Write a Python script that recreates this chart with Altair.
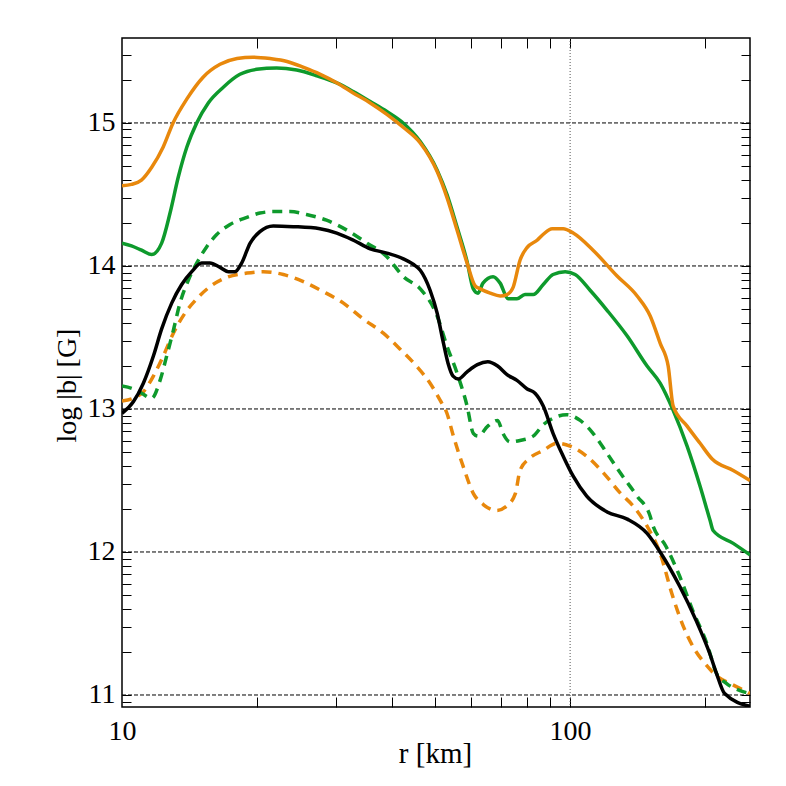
import math
import altair as alt
import pandas as pd

# ---- data (r in km, log10|b| in G) ----
r_orange_solid = [10, 10.5, 11.05, 11.65, 12.35, 13.0, 13.97, 15.17, 16.55, 18.06, 19.6, 21.4, 23.35,
                  25.35, 27.7, 30.2, 32.8, 35.8, 39.0, 42.4, 46.3, 50.5, 53.1, 55.95, 58.9, 61.4, 63.0,
                  66.3, 69.8, 72.3, 74.6, 77.3, 80.2, 84.4, 87.0, 91.2, 96.5, 101.6, 112.5, 127.3,
                  141.1, 150.9, 158.8, 165.5, 169.8, 182.4, 195, 207.5, 231.2, 252]
b_orange_solid = [14.56, 14.57, 14.60, 14.69, 14.83, 15.00, 15.17, 15.32, 15.41, 15.45, 15.46, 15.45,
                  15.43, 15.39, 15.34, 15.28, 15.21, 15.14, 15.06, 14.97, 14.86, 14.66, 14.48, 14.25,
                  14.02, 13.86, 13.84, 13.81, 13.79, 13.80, 13.85, 14.04, 14.13, 14.18, 14.22, 14.26,
                  14.26, 14.23, 14.11, 13.93, 13.79, 13.65, 13.46, 13.30, 13.02, 12.88, 12.76, 12.65,
                  12.57, 12.50]

r_green_solid = [10, 10.5, 11.06, 11.65, 12.26, 12.80, 13.35, 13.95, 14.68, 15.58, 16.83, 18.33, 19.98,
                 22.14, 24.53, 27.2, 30.15, 32.8, 35.8, 39.0, 42.4, 46.3, 50.5, 53.1, 55.95, 58.9,
                 60.8, 62.3, 63.9, 67.3, 69.8, 72.7, 76.1, 79.3, 82.7, 87.1, 91.6, 97.5, 102.6,
                 110.8, 120.9, 134.1, 148.5, 158.8, 169.8, 182.4, 195, 205.3, 208.5, 231.2, 252]
b_green_solid = [14.16, 14.14, 14.11, 14.08, 14.16, 14.37, 14.62, 14.83, 15.00, 15.14, 15.25, 15.34,
                 15.375, 15.385, 15.37, 15.33, 15.28, 15.22, 15.15, 15.08, 15.00, 14.87, 14.67, 14.50,
                 14.27, 14.03, 13.84, 13.81, 13.88, 13.925, 13.88, 13.77, 13.77, 13.80, 13.80, 13.87,
                 13.94, 13.96, 13.94, 13.83, 13.69, 13.51, 13.30, 13.18, 12.99, 12.74, 12.46, 12.22,
                 12.15, 12.06, 11.98]

r_black_solid = [10, 10.6, 11.16, 11.75, 12.26, 12.91, 13.59, 14.31, 15.06, 15.71, 16.55, 17.27, 17.87,
                 18.49, 19.32, 20.31, 21.75, 24.12, 27.65, 30.15, 32.85, 35.8, 39.0, 42.45, 44.74,
                 46.3, 48.7, 50.5, 52.0, 53.4, 54.8, 56.3, 58.9, 62.1, 65.5, 68.9, 72.3, 76.1, 80.2,
                 83.5, 87.1, 91.6, 96.5, 101.6, 108.9, 120.9, 134.1, 148.5, 158.8, 175.6, 191.1,
                 204.9, 212.2, 221.2, 252]
b_black_solid = [12.97, 13.05, 13.18, 13.37, 13.56, 13.74, 13.87, 13.96, 14.02, 14.02, 13.99, 13.96,
                 13.96, 14.02, 14.16, 14.24, 14.28, 14.275, 14.26, 14.23, 14.18, 14.12, 14.09, 14.05,
                 14.01, 13.97, 13.83, 13.67, 13.48, 13.32, 13.23, 13.21, 13.26, 13.31, 13.33, 13.30,
                 13.24, 13.20, 13.14, 13.11, 13.02, 12.83, 12.67, 12.53, 12.39, 12.28, 12.23, 12.13,
                 12.00, 11.76, 11.52, 11.29, 11.15, 11.01, 10.92]

r_green_dashed = [10, 10.6, 11.06, 11.65, 12.16, 12.58, 13.02, 13.47, 14.06, 14.68, 15.46, 16.27, 17.42,
                  19.0, 20.31, 21.75, 23.7, 25.8, 28.6, 31.77, 35.2, 39.0, 42.45, 46.3, 50.5, 53.1,
                  55.95, 58.9, 60.8, 62.3, 65.5, 68.9, 70.8, 73.4, 77.3, 82.7, 87.1, 91.6, 98.2,
                  105.3, 112.5, 120.9, 129.6, 141.1, 150.9, 152.5, 163.6, 175.6, 187.8, 201.9, 212.2,
                  223.5, 239.5, 252]
b_green_dashed = [13.16, 13.14, 13.11, 13.075, 13.20, 13.37, 13.55, 13.74, 13.90, 14.02, 14.135, 14.22,
                  14.29, 14.34, 14.37, 14.38, 14.38, 14.36, 14.32, 14.25, 14.16, 14.065, 13.925, 13.84,
                  13.65, 13.44, 13.25, 13.02, 12.83, 12.81, 12.88, 12.92, 12.83, 12.77, 12.78, 12.81,
                  12.89, 12.935, 12.96, 12.92, 12.83, 12.69, 12.55, 12.39, 12.25, 12.20, 12.04, 11.83,
                  11.59, 11.36, 11.15, 11.08, 11.03, 11.01]

r_orange_dashed = [10, 10.6, 11.16, 11.75, 12.36, 13.02, 13.82, 14.68, 15.71, 17.13, 19.0, 20.66, 22.91,
                   25.39, 28.15, 31.2, 34.5, 38.3, 41.7, 45.4, 48.7, 51.3, 53.1, 54.9, 57.7, 60.8,
                   64.1, 68.5, 72.1, 75.5, 77.3, 81.2, 87.1, 93.3, 100, 108.8, 118.9, 129.6, 138.4,
                   148.5, 158.8, 169.4, 178.9, 187.9, 202.5, 212.8, 227.9, 252]
b_orange_dashed = [13.055, 13.075, 13.12, 13.23, 13.37, 13.53, 13.67, 13.77, 13.855, 13.92, 13.95, 13.96,
                   13.94, 13.89, 13.82, 13.74, 13.63, 13.53, 13.42, 13.30, 13.18, 13.06, 12.97, 12.81,
                   12.60, 12.41, 12.33, 12.29, 12.32, 12.41, 12.57, 12.655, 12.71, 12.76, 12.74, 12.67,
                   12.55, 12.41, 12.32, 12.18, 11.99, 11.69, 11.48, 11.34, 11.20, 11.13, 11.08, 11.01]

# ---- axis settings ----
x_domain = [10, 252]
y_domain = [10.916, 15.594]
x_label_values = [10, 100]
x_tick_values = [20, 30, 40, 50, 60, 70, 80, 90, 100, 200]
y_label_values = [11, 12, 13, 14, 15]
y_minor_mult = [2, 3, 4, 5, 6, 7, 8, 9]
y_tick_values = sorted(
    [float(v) for v in y_label_values]
    + [n + math.log10(k) for n in range(10, 16) for k in y_minor_mult
       if y_domain[0] <= n + math.log10(k) <= y_domain[1]]
)
grid_y = y_label_values
grid_x = [100]

W, H = 628, 669
FONT = "Liberation Serif"

ORANGE = "#E8880C"
GREEN = "#0E9A2C"
BLACK = "#000000"

def frame(name, r, b):
    return pd.DataFrame({"r": r, "b": b, "series": name})

solid_df = pd.concat([
    frame("green", r_green_solid, b_green_solid),
    frame("orange", r_orange_solid, b_orange_solid),
    frame("black", r_black_solid, b_black_solid),
])
dashed_df = pd.concat([
    frame("orange", r_orange_dashed, b_orange_dashed),
    frame("green", r_green_dashed, b_green_dashed),
])

xs = alt.Scale(type="log", domain=x_domain, nice=False)
ys = alt.Scale(domain=y_domain, nice=False, zero=False)
color_scale = alt.Scale(domain=["orange", "green", "black"], range=[ORANGE, GREEN, BLACK])

# horizontal dashed grid (hosts inward ticks on left edge)
hgrid = alt.Chart(pd.DataFrame({"g": grid_y})).mark_rule(
    color="black", strokeWidth=1, strokeDash=[4, 2]
).encode(
    y=alt.Y("g:Q", scale=ys, axis=alt.Axis(
        orient="right", offset=-W, values=y_tick_values, labels=False, domain=False,
        grid=False, ticks=True, tickSize=9, tickColor="black", tickWidth=1, title=None))
)

# vertical dotted grid (hosts inward ticks on bottom edge)
vgrid = alt.Chart(pd.DataFrame({"g": grid_x})).mark_rule(
    color="#555555", strokeWidth=1, strokeDash=[1, 2]
).encode(
    x=alt.X("g:Q", scale=xs, axis=alt.Axis(
        orient="top", offset=-H, values=x_tick_values, labels=False, domain=False,
        grid=False, ticks=True, tickSize=10, tickColor="black", tickWidth=1, title=None))
)

# dashed curves (host inward ticks on right and top edges)
dashed = alt.Chart(dashed_df).mark_line(
    strokeWidth=3.5, strokeDash=[10, 7], clip=True, interpolate="monotone"
).encode(
    x=alt.X("r:Q", scale=xs, axis=alt.Axis(
        orient="bottom", offset=-H, values=x_tick_values, labels=False, domain=False,
        grid=False, ticks=True, tickSize=10, tickColor="black", tickWidth=1, title=None)),
    y=alt.Y("b:Q", scale=ys, axis=alt.Axis(
        orient="left", offset=-W, values=y_tick_values, labels=False, domain=False,
        grid=False, ticks=True, tickSize=9, tickColor="black", tickWidth=1, title=None)),
    color=alt.Color("series:N", scale=color_scale, legend=None),
)

# solid curves (main labelled axes)
solid = alt.Chart(solid_df).mark_line(strokeWidth=3.5, clip=True, interpolate="monotone").encode(
    x=alt.X("r:Q", scale=xs, axis=alt.Axis(
        orient="bottom", values=x_label_values, format="d", ticks=False, grid=False,
        domain=False, labelFont=FONT, labelFontSize=28, labelColor="black", labelPadding=10,
        labelFlush=False, labelOverlap=False,
        title="r [km]", titleFont=FONT, titleFontSize=29, titleFontWeight="normal",
        titleColor="black", titleX=313, titleY=46, titleAlign="center", titleBaseline="middle")),
    y=alt.Y("b:Q", scale=ys, axis=alt.Axis(
        orient="left", values=y_label_values, format="d", ticks=False, grid=False,
        domain=False, labelFont=FONT, labelFontSize=28, labelColor="black", labelPadding=7,
        labelFlush=False, labelOverlap=False,
        title="log |b| [G]", titleFont=FONT, titleFontSize=28, titleFontWeight="normal",
        titleColor="black", titleX=-55, titleY=347, titleAngle=270, titleAlign="center",
        titleBaseline="middle")),
    color=alt.Color("series:N", scale=color_scale, legend=None),
)

chart = alt.layer(hgrid, vgrid, dashed, solid).resolve_axis(
    x="independent", y="independent"
).properties(
    width=W, height=H,
    autosize=alt.AutoSizeParams(type="none"),
    padding={"left": 114, "top": 30, "right": 28, "bottom": 71},
    background="white",
).configure_view(stroke="black", strokeWidth=1.5)

chart.save("out.html", embed_options={"renderer": "svg", "actions": False})
